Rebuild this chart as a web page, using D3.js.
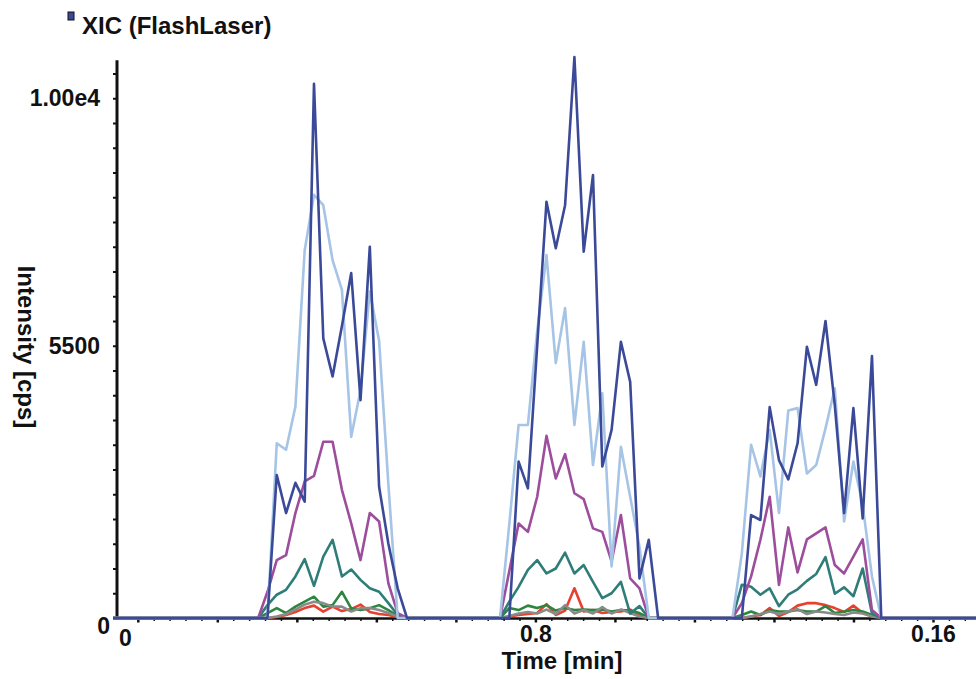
<!DOCTYPE html>
<html>
<head>
<meta charset="utf-8">
<script src="https://cdn.jsdelivr.net/npm/d3@7"></script>
<style>
  body { margin: 0; background: #fff; }
  svg { display: block; font-family: "Liberation Sans", Arial, sans-serif; font-weight: bold; }
</style>
</head>
<body>
<svg id="chart" width="976" height="679"></svg>
<script>
// scan times [min], shared by all traces (baseline, peak 1, peak 2, peak 3, baseline)
var scanTime = [
  -0.00582,
  0.02225, 0.02412, 0.02599, 0.02786, 0.02973, 0.03161, 0.03348, 0.03535, 0.03722, 0.03909,
  0.04097, 0.04284, 0.04471, 0.04658, 0.04845, 0.05032, 0.05219, 0.05406, 0.05593,
  0.07090, 0.07278, 0.07465, 0.07652, 0.07839, 0.08026, 0.08213, 0.08400, 0.08587, 0.08775,
  0.08962, 0.09149, 0.09336, 0.09523, 0.09710, 0.09897, 0.10084, 0.10271, 0.10459, 0.10646,
  0.11768, 0.11956, 0.12143, 0.12330, 0.12517, 0.12704, 0.12891, 0.13078, 0.13265, 0.13453,
  0.13640, 0.13827, 0.14014, 0.14201, 0.14388, 0.14575, 0.14762, 0.14949, 0.15137, 0.15324,
  0.17008
];

// intensities [cps] for each trace, same order as scanTime
var trace1 = [0,
  0, 0, 0, 2890, 2120, 2730, 2350, 10790, 5650, 4880, 5900, 6970, 4400, 7500, 2650, 1500, 600, 0, 0,
  0, 0, 0, 3160, 2620, 5500, 8410, 7470, 8340, 11330, 7400, 8950, 3060, 3800, 5580, 4770, 800, 1580, 0, 0,
  0, 0, 0, 2080, 1980, 4260, 3190, 2800, 3530, 5480, 4710, 6000, 4300, 2120, 4240, 2010, 5290, 0, 0, 0,
  0];
var trace2 = [0,
  0, 0, 0, 3530, 3400, 4270, 7430, 8550, 8340, 7230, 6630, 3660, 4600, 6600, 5600, 2700, 0, 0, 0,
  0, 0, 1900, 3900, 3900, 5800, 7330, 5150, 6260, 3900, 5580, 3090, 4540, 1040, 3460, 2450, 1440, 0, 0, 0,
  0, 0, 1300, 3500, 2860, 3800, 2120, 4190, 4240, 2920, 3090, 3830, 4640, 1950, 3160, 2280, 840, 0, 0, 0,
  0];
var trace3 = [0,
  0, 0, 530, 1170, 1270, 2120, 2760, 2870, 3560, 3560, 2590, 1910, 1170, 2120, 1950, 700, 100, 0, 0,
  0, 0, 950, 1910, 1740, 2450, 3680, 2820, 3310, 2520, 2400, 1810, 1740, 1140, 2080, 800, 600, 0, 0, 0,
  0, 0, 300, 840, 1580, 2450, 670, 1830, 920, 1590, 1710, 1830, 1070, 900, 1240, 1590, 160, 0, 0, 0,
  0];
var trace4 = [0,
  0, 0, 260, 470, 570, 840, 1190, 650, 1240, 1580, 840, 980, 770, 600, 530, 300, 60, 0, 0,
  0, 0, 330, 630, 970, 1170, 900, 1000, 1320, 900, 1070, 730, 400, 500, 730, 90, 240, 0, 0, 0,
  0, 0, 670, 630, 470, 600, 240, 470, 580, 750, 890, 1230, 490, 620, 440, 1000, 90, 0, 0, 0,
  0];
var trace5 = [0,
  0, 0, 100, 200, 100, 230, 330, 430, 230, 260, 530, 195, 160, 195, 260, 160, 40, 0, 0,
  0, 0, 200, 160, 250, 200, 260, 150, 200, 160, 170, 160, 170, 130, 160, 150, 100, 0, 0, 0,
  0, 0, 60, 130, 60, 160, 130, 130, 160, 130, 130, 240, 100, 130, 160, 130, 60, 0, 0, 0,
  0];
var trace6 = [0,
  0, 0, 0, 20, 60, 120, 200, 250, 130, 230, 140, 180, 270, 120, 80, 60, 20, 0, 0,
  0, 0, 30, 60, 80, 100, 280, 60, 150, 600, 130, 160, 100, 120, 130, 170, 60, 0, 0, 0,
  0, 0, 0, 30, 60, 200, 40, 120, 250, 300, 300, 260, 200, 120, 250, 100, 60, 0, 0, 0,
  0];
var trace7 = [0,
  0, 0, 0, 30, 80, 170, 270, 330, 300, 230, 230, 130, 200, 200, 160, 100, 30, 0, 0,
  0, 0, 40, 90, 120, 90, 170, 80, 260, 90, 160, 90, 220, 90, 170, 100, 30, 0, 0, 0,
  0, 0, 0, 30, 80, 130, 80, 130, 180, 80, 130, 110, 80, 60, 110, 90, 30, 0, 0, 0,
  0];

var traceColors = ["#3b4a98", "#a6c4e6", "#9c4e9c", "#2f7d78", "#2e8540", "#e8402e", "#8a8a8a"];

// axis labels as printed on the chart
var yLabelValues = [0, 5500, 10500];
var yLabels = ["0", "5500", "1.00e4"];
var xLabelValues = [0, 0.08, 0.16];
var xLabels = ["0", "0.8", "0.16"];

var svg = d3.select("#chart");

var x = d3.scaleLinear().domain([0, 0.16]).range([138.3, 933.5]);
var y = d3.scaleLinear().domain([0, 11000]).range([618, 73.5]);

// title
svg.append("rect")
  .attr("x", 68).attr("y", 12).attr("width", 6).attr("height", 8)
  .attr("fill", "#3b4a98").attr("stroke", "#111").attr("stroke-width", 1);
svg.append("text")
  .attr("x", 82).attr("y", 34)
  .attr("font-size", 24)
  .attr("fill", "#111")
  .text("XIC (FlashLaser)");

// y axis
var yAxis = d3.axisLeft(y)
  .tickValues(d3.range(0, 11001, 500))
  .tickSize(4)
  .tickFormat("");
var gy = svg.append("g").attr("transform", "translate(117,0)").call(yAxis);
gy.select(".domain").remove();
gy.selectAll(".tick line").attr("stroke", "#111").attr("stroke-width", 2);
svg.append("line")
  .attr("x1", 117).attr("x2", 117)
  .attr("y1", y(0) + 2).attr("y2", y(11270))
  .attr("stroke", "#111").attr("stroke-width", 3);

svg.selectAll(".ylab")
  .data(yLabelValues)
  .enter().append("text")
  .attr("class", "ylab")
  .attr("x", function(d, i) { return i === 0 ? 110 : 100; })
  .attr("y", function(d, i) { return y(d) + (i === 0 ? 16 : 8); })
  .attr("text-anchor", "end")
  .attr("font-size", 23)
  .attr("fill", "#111")
  .text(function(d, i) { return yLabels[i]; });

svg.append("text")
  .attr("transform", "translate(18," + 347 + ") rotate(90)")
  .attr("text-anchor", "middle")
  .attr("font-size", 24)
  .attr("fill", "#111")
  .text("Intensity [cps]");

// x axis
var xTicks = d3.range(0, 53).map(function(i) { return i * 0.0032; });
var gx = svg.append("g").attr("transform", "translate(0,618.5)");
gx.selectAll("line.tick")
  .data(xTicks)
  .enter().append("line")
  .attr("class", "tick")
  .attr("x1", function(d) { return x(d); })
  .attr("x2", function(d) { return x(d); })
  .attr("y1", 0)
  .attr("y2", function(d, i) { return i % 5 === 0 ? 4 : 2.5; })
  .attr("stroke", "#111")
  .attr("stroke-width", function(d, i) { return i % 5 === 0 ? 2.5 : 1.5; });
gx.append("line")
  .attr("x1", 113).attr("x2", 976)
  .attr("stroke", "#111").attr("stroke-width", 2.5);

svg.selectAll(".xlab")
  .data(xLabelValues)
  .enter().append("text")
  .attr("class", "xlab")
  .attr("x", function(d, i) { return x(d) + (i === 0 ? -13 : 0); })
  .attr("y", function(d, i) { return i === 0 ? 646 : 642; })
  .attr("text-anchor", "middle")
  .attr("font-size", 23)
  .attr("fill", "#111")
  .text(function(d, i) { return xLabels[i]; });

svg.append("text")
  .attr("x", 562).attr("y", 669)
  .attr("text-anchor", "middle")
  .attr("font-size", 24)
  .attr("fill", "#111")
  .text("Time [min]");

// traces
svg.append("clipPath").attr("id", "plot-clip")
  .append("rect").attr("x", 113).attr("y", 0).attr("width", 863).attr("height", 679);

var traces = [trace1, trace2, trace3, trace4, trace5, trace6, trace7];
var line = d3.line()
  .x(function(d, i) { return x(scanTime[i]); })
  .y(function(d) { return y(d); });

var drawOrder = [5, 4, 6, 3, 2, 1, 0];
var gLines = svg.append("g").attr("clip-path", "url(#plot-clip)");
drawOrder.forEach(function(k) {
  gLines.append("path")
    .datum(traces[k])
    .attr("d", line)
    .attr("fill", "none")
    .attr("stroke", traceColors[k])
    .attr("stroke-width", 2.6)
    .attr("stroke-linejoin", "round");
});
</script>
</body>
</html>
